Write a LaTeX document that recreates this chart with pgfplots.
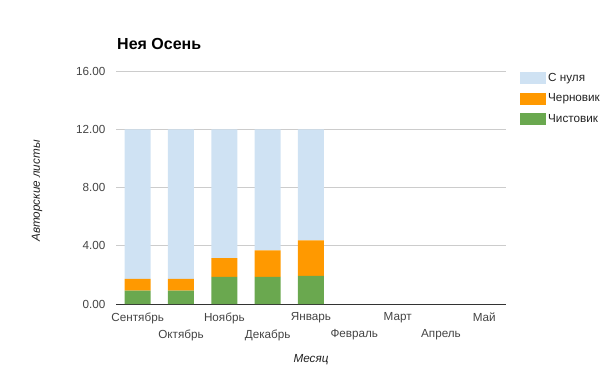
\documentclass[border=0pt]{standalone}
\usepackage{pgfplots}
\pgfplotsset{compat=1.18}
\usepackage{fontspec}
\setmainfont{Liberation Sans}
\definecolor{cblue}{HTML}{CFE2F3}
\definecolor{corange}{HTML}{FF9900}
\definecolor{cgreen}{HTML}{6AA84F}
\definecolor{ctick}{HTML}{444444}
\definecolor{cgrid}{HTML}{CCCCCC}
\definecolor{cbase}{HTML}{333333}
\definecolor{ctext}{HTML}{222222}
\begin{document}
\begin{tikzpicture}[x=1pt,y=1pt]
\useasboundingbox (0,0) rectangle (605,376);
\node[anchor=west, font=\fontsize{16}{19}\selectfont\bfseries, text=black, inner sep=0pt] at (117,332) {Нея Осень};
\begin{axis}[
  at={(116pt,72pt)}, anchor=south west, scale only axis,
  width=390pt, height=233pt,
  ybar stacked, bar width=26pt,
  xmin=-0.5, xmax=8.5, ymin=0, ymax=16,
  ytick={0,4,8,12,16},
  xtick={0,2,4,6,8},
  xticklabels={Сентябрь,Ноябрь,Январь,Март,Май},
  extra x ticks={1,3,5,7},
  extra x tick labels={Октябрь,Декабрь,Февраль,Апрель},
  extra x tick style={xticklabel style={yshift=-17pt}, grid=none},
  major tick length=0pt,
  axis x line*=bottom, axis y line*=left,
  y axis line style={draw=none},
  x axis line style={draw=cbase, line width=0.8pt},
  ymajorgrids, grid style={draw=cgrid, line width=0.6pt},
  /pgf/number format/assume math mode=true,
  yticklabel style={/pgf/number format/.cd, fixed, fixed zerofill, precision=2, /tikz/.cd, font=\fontsize{11.7}{14}\selectfont, text=ctick, xshift=-7pt},
  xticklabel style={font=\fontsize{11.7}{14}\selectfont, text=ctick, yshift=-5pt},
  scaled y ticks=false,
  xlabel={Месяц},
  xlabel style={at={(axis description cs:0.5,-0.2403)}, anchor=center, font=\fontsize{11.7}{14}\selectfont\itshape, text=ctext},
  ylabel={Авторские листы},
  ylabel style={at={(axis description cs:-0.2026,0.485)}, anchor=center, font=\fontsize{11.7}{14}\selectfont\itshape, text=ctext},
  legend style={at={(axis description cs:1,1)}, anchor=north west, xshift=11pt, yshift=2pt, draw=none, fill=none, row sep=7pt, font=\fontsize{11.7}{14}\selectfont, text=ctext, legend cell align=left},
  reverse legend,
  mylegend/.style={legend image code/.code={\fill[##1] (0pt,-6pt) rectangle (26pt,6pt);}},
]
\addplot[fill=cgreen, draw=none, mylegend] coordinates {(0,0.92) (1,0.92) (2,1.86) (3,1.86) (4,1.93)};
\addplot[fill=corange, draw=none, mylegend] coordinates {(0,0.80) (1,0.80) (2,1.29) (3,1.82) (4,2.44)};
\addplot[fill=cblue, draw=none, mylegend] coordinates {(0,10.28) (1,10.28) (2,8.85) (3,8.32) (4,7.63)};
\legend{Чистовик,Черновик,С нуля}
\end{axis}
\end{tikzpicture}
\end{document}
